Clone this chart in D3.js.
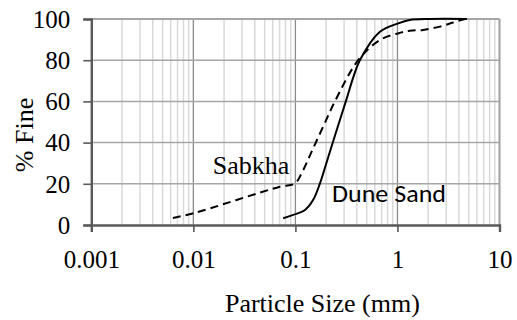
<!DOCTYPE html>
<html>
<head>
<meta charset="utf-8">
<script src="https://cdn.jsdelivr.net/npm/d3@7"></script>
<style>
  html, body { margin: 0; padding: 0; background: #fff; }
</style>
</head>
<body>
<div id="chart"></div>
<script>
// Particle size (mm) and % fine
const sabkhaSize = [0.0063, 0.01, 0.0705, 0.099, 0.115, 0.1466, 0.19, 0.244, 0.412, 0.673, 1.01, 1.32, 1.79, 2.6, 3.51, 4.57];
const sabkhaFine = [3.4, 5.7, 18.6, 20.2, 25.1, 36.4, 48.5, 60, 80, 89.8, 93, 94.3, 94.7, 96.3, 98.3, 100];

const duneSize = [0.0759, 0.095, 0.124, 0.149, 0.174, 0.201, 0.25, 0.312, 0.371, 0.428, 0.673, 1.02, 1.32, 2.07, 4.79];
const duneFine = [3.3, 4.9, 7.3, 12.1, 20.2, 30, 45, 60, 72, 80, 93.8, 97.9, 99.5, 100, 100];

const xTicks = [0.001, 0.01, 0.1, 1, 10];
const xTickLabels = ["0.001", "0.01", "0.1", "1", "10"];
const yTicks = [0, 20, 40, 60, 80, 100];

const seriesNames = ["Sabkha", "Dune Sand"];

const serif = "'Liberation Serif', 'Times New Roman', Times, serif";

// chart box
const W = 517, H = 320;
const margin = { top: 19, right: 17.5, bottom: 95, left: 91.3 };
const width = W - margin.left - margin.right;
const height = H - margin.top - margin.bottom;

const svg = d3.select("#chart").append("svg")
    .attr("width", W)
    .attr("height", H);

const g = svg.append("g")
    .attr("transform", "translate(" + margin.left + "," + margin.top + ")");

const x = d3.scaleLog().domain([0.001, 10]).range([0, width]);
const y = d3.scaleLinear().domain([0, 100]).range([height, 0]);

// minor vertical grid (2..9 in each decade)
const minor = [];
for (let d = 0.001; d < 10; d *= 10) {
    for (let k = 2; k <= 9; k++) minor.push(+(d * k).toPrecision(3));
}
g.selectAll(".minor")
    .data(minor)
    .enter().append("line")
    .attr("x1", d => x(d)).attr("x2", d => x(d))
    .attr("y1", 0).attr("y2", height)
    .attr("stroke", "#d9d9d9")
    .attr("stroke-width", 1.5);

// major vertical grid
g.selectAll(".major")
    .data(xTicks.slice(1, -1))
    .enter().append("line")
    .attr("x1", d => x(d)).attr("x2", d => x(d))
    .attr("y1", 0).attr("y2", height)
    .attr("stroke", "#8c8c8c")
    .attr("stroke-width", 1.3);

// horizontal grid
g.selectAll(".hgrid")
    .data(yTicks.slice(1, -1))
    .enter().append("line")
    .attr("x1", 0).attr("x2", width)
    .attr("y1", d => y(d)).attr("y2", d => y(d))
    .attr("stroke", "#a6a6a6")
    .attr("stroke-width", 1.5);

// top and right border
g.append("line")
    .attr("x1", 0).attr("x2", width)
    .attr("y1", y(100)).attr("y2", y(100))
    .attr("stroke", "#a6a6a6").attr("stroke-width", 2.2);
g.append("line")
    .attr("x1", width).attr("x2", width)
    .attr("y1", 0).attr("y2", height)
    .attr("stroke", "#a6a6a6").attr("stroke-width", 2.2);

// axes
const xAxis = g.append("g")
    .attr("transform", "translate(0," + height + ")")
    .call(d3.axisBottom(x).tickValues(xTicks).tickFormat((d, i) => xTickLabels[i]).tickSize(7).tickPadding(10));
const yAxis = g.append("g")
    .call(d3.axisLeft(y).tickValues(yTicks).tickSize(8).tickPadding(13));

[xAxis, yAxis].forEach(a => {
    a.attr("font-family", serif).attr("font-size", 25);
    a.select(".domain").attr("stroke", "#595959").attr("stroke-width", 2.4);
    a.selectAll(".tick line").attr("stroke", "#595959").attr("stroke-width", 1.6);
    a.selectAll(".tick text").attr("fill", "#000");
});
xAxis.selectAll(".tick text").attr("dy", "1.05em");
yAxis.selectAll(".tick text").attr("dy", "0.33em");

// lines
const line = d3.line()
    .x(d => x(d[0]))
    .y(d => y(d[1]))
    .curve(d3.curveCatmullRom.alpha(0.5));

const sabkha = sabkhaSize.map((s, i) => [s, sabkhaFine[i]]);
const dune = duneSize.map((s, i) => [s, duneFine[i]]);

g.append("path")
    .datum(sabkha)
    .attr("fill", "none")
    .attr("stroke", "#000")
    .attr("stroke-width", 2)
    .attr("stroke-dasharray", "8,5")
    .attr("d", line);

g.append("path")
    .datum(dune)
    .attr("fill", "none")
    .attr("stroke", "#000")
    .attr("stroke-width", 2)
    .attr("d", line);

// series labels
svg.append("text")
    .attr("x", 212.7)
    .attr("y", 174)
    .attr("font-family", serif)
    .attr("font-size", 26)
    .text(seriesNames[0]);

svg.append("text")
    .attr("x", 332)
    .attr("y", 202)
    .attr("font-family", "Carlito, Calibri, Lato, 'Open Sans', sans-serif")
    .attr("font-size", 25)
    .attr("textLength", 114)
    .attr("lengthAdjust", "spacingAndGlyphs")
    .text(seriesNames[1]);

// axis titles
svg.append("text")
    .attr("x", 322.4)
    .attr("y", 311.7)
    .attr("text-anchor", "middle")
    .attr("font-family", serif)
    .attr("font-size", 26)
    .text("Particle Size (mm)");

svg.append("text")
    .attr("transform", "translate(33,135) rotate(-90)")
    .attr("text-anchor", "middle")
    .attr("font-family", serif)
    .attr("font-size", 26)
    .text("% Fine");
</script>
</body>
</html>
